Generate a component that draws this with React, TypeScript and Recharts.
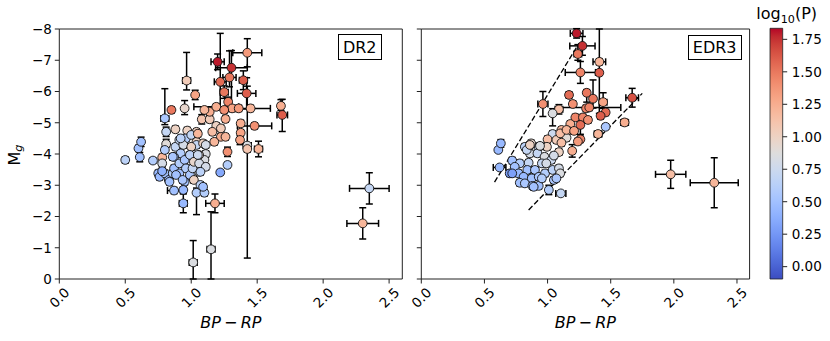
import React from 'react';
import { ScatterChart, Scatter, XAxis, YAxis, ErrorBar, ReferenceArea, ReferenceLine } from 'recharts';

const FONT = '"DejaVu Sans", Verdana, sans-serif';

// ---------- DR2 panel ----------
const dr2BpRp = [0.50,0.60,0.62,0.61,0.71,0.78,0.80,0.85,0.81,0.81,0.80,0.88,0.965,0.95,1.03,0.97,0.88,0.91,0.96,0.94,1.04,1.04,1.04,1.08,1.14,1.14,1.09,1.11,1.10,1.06,1.02,1.00,0.92,0.87,0.78,0.75,0.76,0.80,0.83,0.86,0.87,0.91,0.95,0.99,0.91,0.96,0.99,0.95,0.87,0.94,0.94,1.02,1.04,1.07,1.10,1.06,1.04,1.01,1.02,1.06,1.20,1.305,1.425,1.22,1.29,1.395,1.25,1.42,1.28,1.19,1.31,1.36,1.45,1.68,1.69,1.26,1.375,1.48,1.375,1.37,1.425,1.425,1.51,1.275,1.19,1.225,1.26,1.175,1.16,1.225,1.275,1.22,1.18,1.15,1.015,2.35,2.30,0.92,1.00,1.11,1.05,0.86,1.11,0.78,0.835,0.885,0.935,1.10,1.25,1.05,1.07,1.09];
const dr2Mg = [-3.81,-4.18,-4.39,-3.90,-3.79,-3.89,-5.14,-5.41,-4.71,-4.32,-4.13,-4.79,-6.35,-5.46,-5.89,-4.75,-4.23,-4.45,-4.50,-4.29,-4.71,-4.39,-4.29,-5.11,-5.11,-5.35,-4.34,-4.00,-3.81,-3.97,-3.97,-4.23,-4.02,-3.91,-3.70,-3.38,-3.27,-3.38,-3.17,-3.38,-3.54,-3.70,-3.81,-3.97,-3.38,-3.54,-3.33,-3.11,-2.83,-2.85,-2.42,-3.17,-2.76,-3.01,-2.76,-3.43,-3.59,-3.54,-3.75,-3.70,-6.95,-6.76,-7.24,-6.31,-6.45,-6.36,-5.98,-5.94,-5.67,-5.51,-5.46,-5.46,-5.46,-5.54,-5.25,-5.12,-4.98,-4.90,-4.68,-4.45,-4.27,-4.16,-4.16,-4.07,-4.90,-4.55,-4.55,-4.39,-4.71,-4.82,-3.65,-3.41,-2.42,-0.95,-0.53,-2.90,-1.78,-4.50,-4.61,-4.29,-3.97,-3.91,-3.59,-3.45,-3.11,-3.33,-3.17,-5.41,-5.41,-4.65,-3.43,-2.95];
const dr2LogP = [0.65,0.50,0.50,0.50,0.60,1.20,0.55,1.50,0.70,0.90,0.60,1.00,1.05,0.95,1.30,1.00,0.70,0.70,0.60,0.80,1.00,1.00,0.70,1.10,1.05,1.25,1.00,0.85,0.85,0.95,0.80,1.00,0.60,0.50,0.80,0.45,0.45,0.50,0.45,0.60,0.50,0.60,0.55,0.65,0.50,0.60,0.55,0.50,0.50,0.45,0.45,1.00,0.60,0.65,0.60,0.80,0.70,0.70,0.95,0.80,1.80,1.75,1.35,1.55,1.50,1.60,1.50,1.60,1.45,1.25,1.30,1.35,1.20,1.25,1.60,1.25,1.25,1.40,1.30,1.30,0.85,1.10,1.20,1.40,1.00,1.25,1.20,1.20,1.15,1.05,0.60,0.35,1.25,0.85,0.85,0.70,1.20,0.65,0.70,0.80,0.75,0.55,0.80,0.40,0.50,0.50,0.55,1.20,1.40,1.20,0.65,0.50];
const dr2ErrBpRp = [0.02,0.01,0.01,0.01,0.02,0.02,0.03,0.01,0.02,0.02,0.02,0.02,0.03,0.02,0.01,0.02,0.02,0.02,0.02,0.02,0.02,0.02,0.02,0.02,0.02,0.02,0.02,0.02,0.02,0.02,0.02,0.02,0.02,0.02,0.02,0.02,0.02,0.02,0.02,0.02,0.02,0.02,0.02,0.02,0.02,0.02,0.02,0.02,0.05,0.02,0.03,0.02,0.02,0.02,0.02,0.02,0.02,0.02,0.02,0.02,0.05,0.12,0.11,0.045,0.05,0.03,0.03,0.07,0.02,0.17,0.05,0.02,0.15,0.02,0.04,0.02,0.02,0.13,0.02,0.02,0.03,0.02,0.03,0.02,0.02,0.02,0.02,0.02,0.02,0.02,0.02,0.02,0.07,0.03,0.03,0.15,0.12,0.02,0.02,0.02,0.02,0.02,0.02,0.02,0.02,0.02,0.02,0.02,0.02,0.02,0.02,0.02];
const dr2ErrMgUp = [0.10,0.10,0.15,0.15,0.08,0.10,0.95,0.10,0.15,0.15,0.10,0.10,0.90,0.25,0.15,0.10,0.10,0.10,0.10,0.10,0.10,0.10,0.10,0.15,0.10,0.10,0.10,0.10,0.10,0.10,0.10,0.10,0.10,0.10,0.10,0.10,0.10,0.10,0.10,0.10,0.10,0.10,0.10,0.10,0.10,0.10,0.10,0.10,0.10,0.10,0.30,0.10,0.15,0.10,0.10,0.10,0.10,0.10,0.10,0.10,0.25,0.55,0.45,1.55,0.85,0.30,0.20,0.50,0.15,0.10,0.10,0.10,0.10,0.20,0.50,0.10,0.10,0.10,0.10,0.15,1.90,0.10,0.25,0.15,0.10,0.10,0.10,0.10,0.10,0.10,0.08,0.05,0.30,1.20,0.70,0.50,0.50,0.10,0.10,0.10,0.10,0.10,0.10,0.10,0.10,0.10,0.10,0.10,0.10,0.10,0.10,0.10];
const dr2ErrMgDown = [0.10,0.10,0.15,0.15,0.08,0.10,0.20,0.10,0.15,0.10,0.10,0.10,0.30,0.20,0.15,0.10,0.10,0.10,0.10,0.10,0.10,0.10,0.10,0.15,0.10,0.10,0.10,0.10,0.10,0.10,0.10,0.10,0.10,0.10,0.10,0.10,0.10,0.10,0.10,0.10,0.10,0.10,0.10,0.10,0.10,0.10,0.10,0.10,0.10,0.10,0.30,0.10,0.70,0.10,0.10,0.10,0.10,0.10,0.10,0.10,0.25,1.40,0.45,0.80,0.30,0.30,0.20,0.50,0.15,0.10,0.10,0.10,0.10,0.15,0.53,0.10,0.10,0.10,0.10,0.15,3.60,0.10,0.25,0.15,0.10,0.10,0.10,0.10,0.10,0.10,0.08,0.05,0.30,0.95,0.53,0.50,0.50,0.10,0.10,0.10,0.10,0.10,0.10,0.10,0.10,0.10,0.10,0.10,0.10,0.10,0.10,0.10];

// ---------- EDR3 panel ----------
const edr3BpRp = [1.23,1.276,1.24,1.41,1.26,1.41,0.963,1.17,1.31,1.36,1.44,1.20,1.09,1.04,1.305,1.33,1.46,1.42,1.67,1.61,1.46,1.40,1.22,1.28,1.26,1.32,1.18,1.16,1.11,1.04,1.15,1.26,1.195,1.00,1.07,1.11,0.995,0.93,0.87,0.82,0.86,0.92,0.976,1.03,1.09,0.955,0.85,0.72,0.78,0.74,0.77,0.70,0.62,0.61,0.63,0.84,0.90,0.81,0.875,0.93,0.98,1.04,1.09,1.05,0.78,0.82,0.88,0.93,1.01,1.105,1.975,2.32,0.835,0.86,0.94,1.10,1.15,1.10,1.07,0.89,0.72,0.955,0.99,1.05,1.24,1.21];
const edr3Mg = [-7.86,-7.46,-7.20,-6.95,-6.61,-6.60,-5.60,-5.89,-5.96,-5.77,-5.66,-5.60,-5.43,-5.30,-5.46,-5.49,-5.33,-5.22,-5.80,-5.01,-4.87,-4.64,-5.17,-5.17,-4.93,-5.09,-4.96,-4.75,-4.77,-4.64,-4.52,-4.47,-4.10,-4.47,-4.45,-4.36,-4.23,-4.23,-4.34,-4.23,-4.02,-4.02,-3.91,-3.81,-4.06,-3.70,-3.72,-3.79,-3.70,-3.59,-3.38,-3.38,-3.57,-4.13,-4.34,-3.49,-3.49,-3.27,-3.22,-3.27,-3.38,-3.49,-3.54,-3.17,-3.08,-3.06,-2.98,-2.98,-2.85,-2.74,-3.35,-3.08,-4.13,-4.29,-4.26,-4.66,-4.77,-3.38,-3.22,-2.95,-3.38,-3.22,-3.70,-3.95,-4.40,-4.74];
const edr3LogP = [1.80,1.75,1.50,1.20,1.45,1.60,1.40,1.55,1.50,1.50,1.30,1.40,1.15,0.85,1.45,1.45,1.55,1.60,1.65,1.25,0.55,1.20,1.45,1.45,1.55,1.40,1.25,1.20,1.20,0.75,0.90,1.45,1.25,1.15,1.05,1.15,1.00,0.70,0.95,0.65,0.80,0.70,0.85,0.75,1.00,0.70,0.70,0.50,0.60,0.50,0.45,0.30,0.45,0.45,0.45,0.50,0.55,0.45,0.50,0.55,0.60,0.65,0.80,0.55,0.50,0.55,0.50,0.50,0.60,0.70,1.15,1.20,0.70,1.00,0.85,1.15,1.20,0.85,0.55,0.50,0.30,0.60,0.80,0.80,1.35,1.30];
const edr3ErrBpRp = [0.05,0.10,0.03,0.05,0.12,0.02,0.04,0.02,0.02,0.02,0.03,0.02,0.03,0.02,0.02,0.25,0.02,0.02,0.05,0.03,0.02,0.03,0.02,0.02,0.02,0.02,0.02,0.02,0.02,0.02,0.02,0.02,0.02,0.02,0.02,0.02,0.02,0.02,0.02,0.02,0.02,0.02,0.02,0.02,0.02,0.02,0.02,0.02,0.02,0.02,0.02,0.02,0.05,0.01,0.01,0.02,0.02,0.02,0.02,0.02,0.02,0.02,0.02,0.02,0.02,0.02,0.02,0.02,0.02,0.04,0.12,0.19,0.02,0.02,0.02,0.02,0.02,0.02,0.02,0.02,0.02,0.02,0.02,0.02,0.02,0.02];
const edr3ErrMgUp = [0.15,0.30,0.30,0.10,0.35,1.40,0.40,0.10,0.10,0.60,0.30,0.10,0.15,0.15,0.10,0.10,0.10,0.10,0.30,0.10,0.08,0.10,0.10,0.10,0.30,0.10,0.10,0.10,0.10,0.10,0.10,0.10,0.20,0.10,0.10,0.10,0.10,0.10,0.10,0.10,0.10,0.10,0.10,0.10,0.10,0.10,0.10,0.10,0.10,0.10,0.10,0.10,0.05,0.08,0.12,0.10,0.10,0.10,0.10,0.10,0.10,0.10,0.10,0.10,0.10,0.10,0.10,0.10,0.15,0.05,0.45,0.80,0.10,0.10,0.10,0.10,0.10,0.10,0.10,0.10,0.10,0.10,0.10,0.10,0.10,0.10];
const edr3ErrMgDown = [0.15,0.30,0.20,0.10,0.35,1.30,0.40,0.10,0.30,0.30,0.20,0.10,0.15,0.40,0.10,0.10,0.10,0.10,0.30,0.10,0.08,0.10,0.10,0.10,0.30,0.10,0.10,0.10,0.10,0.10,0.10,0.10,0.20,0.10,0.10,0.10,0.10,0.10,0.10,0.10,0.10,0.10,0.10,0.10,0.10,0.10,0.10,0.10,0.10,0.10,0.10,0.10,0.05,0.08,0.12,0.10,0.10,0.10,0.10,0.10,0.10,0.10,0.10,0.10,0.10,0.10,0.10,0.10,0.15,0.05,0.45,0.80,0.10,0.10,0.10,0.10,0.10,0.10,0.10,0.10,0.10,0.10,0.10,0.10,0.10,0.10];

// dashed guide lines in the EDR3 panel (data coordinates)
const edr3GuideLeft = [{ bpRp: 0.58, mg: -3.1 }, { bpRp: 1.25, mg: -7.55 }];
const edr3GuideRight = [{ bpRp: 0.85, mg: -2.21 }, { bpRp: 1.75, mg: -5.94 }];

// ticks
const xTicks = [0, 0.5, 1.0, 1.5, 2.0, 2.5];
const yTicks = [-8, -7, -6, -5, -4, -3, -2, -1, 0];
const cbTicks = [0, 0.25, 0.5, 0.75, 1.0, 1.25, 1.5, 1.75];
const X_DOMAIN: [number, number] = [0, 2.6];
const Y_DOMAIN: [number, number] = [-8, 0];
const CB_MIN = -0.095;
const CB_MAX = 1.835;

// matplotlib "coolwarm" colormap table
const COOLWARM = [
  [59,76,192],[68,90,204],[77,104,215],[87,117,225],[98,130,234],[108,142,241],[119,154,247],[130,165,251],
  [141,176,254],[152,185,255],[163,194,255],[174,201,253],[184,208,249],[194,213,244],[204,217,238],[213,219,230],
  [221,221,221],[229,216,209],[236,211,197],[241,204,185],[245,196,173],[247,187,160],[247,177,148],[247,166,135],
  [244,154,123],[241,141,111],[236,127,99],[229,112,88],[222,96,77],[213,80,66],[203,62,56],[192,40,47],[180,4,38],
];

function coolwarm(v: number): string {
  const t = Math.min(1, Math.max(0, (v - CB_MIN) / (CB_MAX - CB_MIN)));
  const f = t * 32;
  const i = Math.min(31, Math.floor(f));
  const u = f - i;
  const a = COOLWARM[i];
  const b = COOLWARM[i + 1];
  const c = a.map((av, k) => Math.round(av + (b[k] - av) * u));
  return `rgb(${c[0]},${c[1]},${c[2]})`;
}

function build(xs: number[], ys: number[], ps: number[], ex: number[], eu: number[], ed: number[]) {
  return xs.map((x, i) => ({ x, y: ys[i], color: coolwarm(ps[i]), ex: ex[i], ey: [eu[i], ed[i]] }));
}

const dr2Data = build(dr2BpRp, dr2Mg, dr2LogP, dr2ErrBpRp, dr2ErrMgUp, dr2ErrMgDown);
const edr3Data = build(edr3BpRp, edr3Mg, edr3LogP, edr3ErrBpRp, edr3ErrMgUp, edr3ErrMgDown);

const Dot = (props: any) => (
  <circle cx={props.cx} cy={props.cy} r={4.4} fill={props.payload.color} stroke="#111" strokeWidth={0.9} />
);

const RotTick = (props: any) => {
  const { x, y, payload } = props;
  const cy = y + 14;
  return (
    <text x={x} y={cy} transform={`rotate(-45 ${x} ${cy})`} textAnchor="middle" dominantBaseline="central"
      fontSize={13.5} fontFamily={FONT} fill="#000">
      {Number(payload.value).toFixed(1)}
    </text>
  );
};

const fmtY = (v: number) => (v < 0 ? '\u2212' + Math.abs(v) : String(v));

function Panel(props: { data: any[]; width: number; marginRight: number; labels: boolean; guides?: boolean }) {
  const { data, width, marginRight, labels, guides } = props;
  return (
    <ScatterChart width={width} height={341} margin={{ top: 29, right: marginRight, bottom: 0, left: 0 }}>
      <XAxis type="number" dataKey="x" domain={X_DOMAIN} ticks={xTicks} allowDataOverflow height={62}
        axisLine={false} tickLine={{ stroke: '#222' }} tickSize={4.5} tickMargin={0} tick={<RotTick />} interval={0} />
      <YAxis type="number" dataKey="y" domain={Y_DOMAIN} ticks={yTicks} reversed allowDataOverflow width={59.3}
        axisLine={false} tickLine={{ stroke: '#222' }} tickSize={4.5} tickMargin={3} interval={0}
        tickFormatter={labels ? fmtY : () => ''}
        tick={{ fontSize: 13.5, fill: '#000', fontFamily: FONT }} />
      <Scatter data={data} shape={<Dot />} isAnimationActive={false}>
        <ErrorBar dataKey="ex" direction="x" stroke="#000" strokeWidth={1.5} width={3.5} isAnimationActive={false} />
        <ErrorBar dataKey="ey" direction="y" stroke="#000" strokeWidth={1.5} width={3.5} isAnimationActive={false} />
      </Scatter>
      {guides && (
        <ReferenceLine segment={[{ x: edr3GuideLeft[0].bpRp, y: edr3GuideLeft[0].mg }, { x: edr3GuideLeft[1].bpRp, y: edr3GuideLeft[1].mg }]}
          stroke="#000" strokeWidth={1.3} strokeDasharray="5.5 2.5" ifOverflow="visible" />
      )}
      {guides && (
        <ReferenceLine segment={[{ x: edr3GuideRight[0].bpRp, y: edr3GuideRight[0].mg }, { x: edr3GuideRight[1].bpRp, y: edr3GuideRight[1].mg }]}
          stroke="#000" strokeWidth={1.3} strokeDasharray="5.5 2.5" ifOverflow="visible" />
      )}
      <ReferenceArea x1={X_DOMAIN[0]} x2={X_DOMAIN[1]} y1={Y_DOMAIN[0]} y2={Y_DOMAIN[1]} fill="none" fillOpacity={0}
        stroke="#222" strokeWidth={1} ifOverflow="visible" />
    </ScatterChart>
  );
}

const boxStyle: React.CSSProperties = {
  position: 'absolute', boxSizing: 'border-box', border: '1px solid #000', background: '#fff',
  display: 'flex', alignItems: 'center', justifyContent: 'center', fontSize: 16, color: '#000',
};

const xLabelStyle: React.CSSProperties = {
  position: 'absolute', top: 321.7, transform: 'translate(-50%, -50%)', fontSize: 16, whiteSpace: 'nowrap', color: '#000',
};

export default function App() {
  return (
    <div style={{ position: 'absolute', left: 0, top: 0, width: 830, height: 341, background: '#fff', fontFamily: FONT, overflow: 'hidden' }}>
      <svg width={0} height={0} style={{ position: 'absolute' }}>
        <defs>
          <linearGradient id="cwGrad" x1="0" y1="1" x2="0" y2="0">
            {COOLWARM.map((c, i) => (
              <stop key={i} offset={i / 32} stopColor={`rgb(${c[0]},${c[1]},${c[2]})`} />
            ))}
          </linearGradient>
        </defs>
      </svg>

      <div style={{ position: 'absolute', left: 0, top: 0 }}>
        <Panel data={dr2Data} width={420} marginRight={17.7} labels />
      </div>
      <div style={{ position: 'absolute', left: 362, top: 0 }}>
        <Panel data={edr3Data} width={400} marginRight={12.4} labels={false} guides />
      </div>

      {/* colorbar */}
      <div style={{ position: 'absolute', left: 760, top: 0 }}>
        <ScatterChart width={70} height={341} margin={{ top: 28.3, right: 0, bottom: 62, left: 10 }}>
          <XAxis type="number" dataKey="x" domain={[0, 1]} hide allowDataOverflow />
          <YAxis type="number" dataKey="y" orientation="right" domain={[CB_MIN, CB_MAX]} ticks={cbTicks} allowDataOverflow
            width={47.3} axisLine={false} tickLine={{ stroke: '#222' }} tickSize={4.5} tickMargin={4.5} interval={0}
            tickFormatter={(v: number) => v.toFixed(2)} tick={{ fontSize: 13.5, fill: '#000', fontFamily: FONT }} />
          <Scatter data={[]} isAnimationActive={false} />
          <ReferenceArea x1={0} x2={1} y1={CB_MIN} y2={CB_MAX} fill="url(#cwGrad)" fillOpacity={1} stroke="#222" strokeWidth={0.8} ifOverflow="visible" />
        </ScatterChart>
      </div>

      {/* panel tags */}
      <div style={{ ...boxStyle, left: 337.7, top: 34.3, width: 44, height: 26 }}>DR2</div>
      <div style={{ ...boxStyle, left: 687.7, top: 35, width: 54, height: 25.3 }}>EDR3</div>

      {/* axis labels */}
      <div style={{ ...xLabelStyle, left: 230.8 }}><i>BP</i>{'\u2009\u2212\u2009'}<i>RP</i></div>
      <div style={{ ...xLabelStyle, left: 585.3 }}><i>BP</i>{'\u2009\u2212\u2009'}<i>RP</i></div>
      <div style={{ position: 'absolute', left: 15, top: 155, transform: 'translate(-50%, -50%) rotate(-90deg)', fontSize: 16, whiteSpace: 'nowrap', color: '#000' }}>
        M<sub style={{ fontSize: '70%', fontStyle: 'italic', verticalAlign: '-0.25em' }}>g</sub>
      </div>
      <div style={{ position: 'absolute', left: 786.7, top: 15, transform: 'translate(-50%, -50%)', fontSize: 16, whiteSpace: 'nowrap', color: '#000' }}>
        log<sub style={{ fontSize: '70%', verticalAlign: '-0.3em' }}>10</sub>(P)
      </div>
    </div>
  );
}
